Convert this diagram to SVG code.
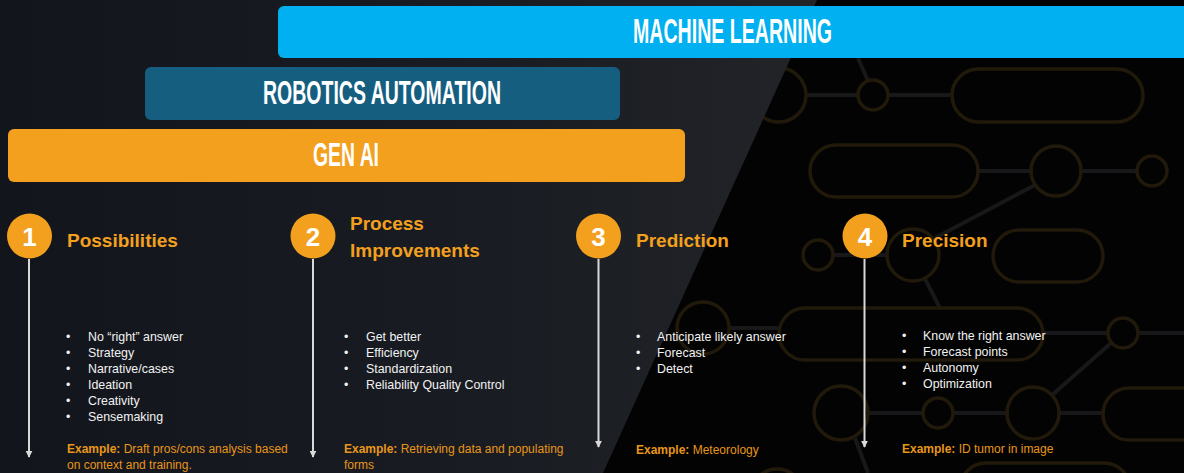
<svg xmlns="http://www.w3.org/2000/svg" width="1184" height="473" viewBox="0 0 1184 473">
<defs>
<linearGradient id="lbg" x1="0" y1="0" x2="1" y2="0">
<stop offset="0" stop-color="#12151c"/>
<stop offset="0.6" stop-color="#191c22"/>
<stop offset="1" stop-color="#222428"/>
</linearGradient>
<marker id="ah" viewBox="0 0 10 10" refX="9" refY="5" markerWidth="7" markerHeight="7" markerUnits="userSpaceOnUse" orient="auto">
<path d="M0,0 L10,5 L0,10 z" fill="#d9d9d9"/>
</marker>
<style>
.ring{fill:none;stroke:#211a0b;stroke-width:3.5}
.wire{stroke:#18181a;stroke-width:4;fill:none}
.bartxt{font-family:"Liberation Sans Narrow","Liberation Sans",Arial,sans-serif;font-weight:bold;fill:#ffffff;text-anchor:middle}
.num{font-family:"Liberation Sans",Arial,sans-serif;font-weight:bold;font-size:26px;fill:#ffffff;text-anchor:middle}
.title{font-family:"Liberation Sans",Arial,sans-serif;font-weight:bold;font-size:19px;fill:#f3a01e}
.body{font-family:"Liberation Sans",Arial,sans-serif;font-size:12.4px;fill:#f2f2f2}
.ex{font-family:"Liberation Sans",Arial,sans-serif;font-size:12px;fill:#e8961a}
.ex tspan.b{font-weight:bold}
.circ{fill:#f3a01e}
.arrow{stroke:#d9d9d9;stroke-width:2;fill:none}
</style>
</defs>
<g id="background">
<rect x="0" y="0" width="1184" height="473" fill="#030303"/>
<g id="circuit">
<line class="wire" x1="806" y1="95" x2="858" y2="95"/>
<line class="wire" x1="868" y1="81" x2="858" y2="58"/>
<line class="wire" x1="888" y1="95" x2="952" y2="95"/>
<line class="wire" x1="978" y1="171" x2="1031" y2="171"/>
<line class="wire" x1="1081" y1="171" x2="1137" y2="171"/>
<line class="wire" x1="1035" y1="185" x2="935" y2="238"/>
<line class="wire" x1="833" y1="255" x2="887" y2="255"/>
<line class="wire" x1="925" y1="279" x2="940" y2="308"/>
<line class="wire" x1="1043" y1="333" x2="1108" y2="333"/>
<line class="wire" x1="1138" y1="333" x2="1184" y2="333"/>
<line class="wire" x1="1051" y1="396" x2="1111" y2="343"/>
<line class="wire" x1="868" y1="413" x2="923" y2="413"/>
<line class="wire" x1="953" y1="413" x2="1007" y2="413"/>
<line class="wire" x1="1059" y1="413" x2="1103" y2="413"/>
<line class="wire" x1="855" y1="438" x2="868" y2="473"/>
<line class="wire" x1="730" y1="328" x2="779" y2="328"/>
<circle class="ring" cx="779" cy="95" r="27"/>
<circle class="ring" cx="873" cy="95" r="15"/>
<rect class="ring" x="952" y="69" width="191" height="53" rx="26.5"/>
<rect class="ring" x="810" y="145" width="168" height="52" rx="26"/>
<circle class="ring" cx="1056" cy="171" r="25"/>
<circle class="ring" cx="1152" cy="171" r="15"/>
<circle class="ring" cx="818" cy="255" r="15"/>
<circle class="ring" cx="913" cy="255" r="26"/>
<rect class="ring" x="993" y="230" width="110" height="52" rx="26"/>
<rect class="ring" x="779" y="308" width="264" height="52" rx="26"/>
<circle class="ring" cx="703" cy="328" r="26"/>
<circle class="ring" cx="1123" cy="333" r="15"/>
<circle class="ring" cx="841" cy="413" r="27"/>
<circle class="ring" cx="938" cy="413" r="15"/>
<circle class="ring" cx="1033" cy="413" r="26"/>
<rect class="ring" x="1103" y="388" width="120" height="52" rx="26"/>
<rect class="ring" x="960" y="463" width="170" height="52" rx="26"/>
<circle class="ring" cx="777" cy="495" r="26"/>
</g>
<polygon points="0,0 817,0 603,473 0,473" fill="url(#lbg)"/>
</g>
<g id="bar-ml">
<rect x="278" y="6" width="912" height="52" rx="6" fill="#00b0f0"/>
<text class="bartxt" x="732.5" y="43" font-size="35" textLength="199" lengthAdjust="spacingAndGlyphs">MACHINE LEARNING</text>
</g>
<g id="bar-ra">
<rect x="145" y="67" width="475" height="53" rx="6" fill="#165e80"/>
<text class="bartxt" x="382" y="103.5" font-size="33" textLength="238" lengthAdjust="spacingAndGlyphs">ROBOTICS AUTOMATION</text>
</g>
<g id="bar-genai">
<rect x="8" y="129" width="677" height="53" rx="6" fill="#f3a01e"/>
<text class="bartxt" x="346" y="166" font-size="33" textLength="66" lengthAdjust="spacingAndGlyphs">GEN AI</text>
</g>
<g id="connectors">
<line class="arrow" x1="29" y1="259" x2="29" y2="457" marker-end="url(#ah)"/>
<line class="arrow" x1="313" y1="259" x2="313" y2="457" marker-end="url(#ah)"/>
<line class="arrow" x1="598.5" y1="259" x2="598.5" y2="447" marker-end="url(#ah)"/>
<line class="arrow" x1="864.5" y1="259" x2="864.5" y2="447" marker-end="url(#ah)"/>
</g>
<g id="col1">
<circle class="circ" cx="29.5" cy="236" r="22.5"/>
<text class="num" x="29.5" y="245.5">1</text>
<text class="title" x="67" y="247">Possibilities</text>
<g class="body">
<text x="66" y="341">•</text><text x="88" y="341">No “right” answer</text>
<text x="66" y="357">•</text><text x="88" y="357">Strategy</text>
<text x="66" y="373">•</text><text x="88" y="373">Narrative/cases</text>
<text x="66" y="389">•</text><text x="88" y="389">Ideation</text>
<text x="66" y="405">•</text><text x="88" y="405">Creativity</text>
<text x="66" y="421">•</text><text x="88" y="421">Sensemaking</text>
</g>
<text class="ex" x="67" y="453"><tspan class="b">Example:</tspan> Draft pros/cons analysis based</text>
<text class="ex" x="67" y="469">on context and training.</text>
</g>
<g id="col2">
<circle class="circ" cx="313" cy="236" r="22.5"/>
<text class="num" x="313" y="245.5">2</text>
<text class="title" x="350" y="230">Process</text>
<text class="title" x="350" y="257">Improvements</text>
<g class="body">
<text x="344" y="341">•</text><text x="366" y="341">Get better</text>
<text x="344" y="357">•</text><text x="366" y="357">Efficiency</text>
<text x="344" y="373">•</text><text x="366" y="373">Standardization</text>
<text x="344" y="389">•</text><text x="366" y="389">Reliability Quality Control</text>
</g>
<text class="ex" x="344" y="453"><tspan class="b">Example:</tspan> Retrieving data and populating</text>
<text class="ex" x="344" y="469">forms</text>
</g>
<g id="col3">
<circle class="circ" cx="598.5" cy="236" r="22.5"/>
<text class="num" x="598.5" y="245.5">3</text>
<text class="title" x="636" y="247">Prediction</text>
<g class="body">
<text x="636" y="341">•</text><text x="657" y="341">Anticipate likely answer</text>
<text x="636" y="357">•</text><text x="657" y="357">Forecast</text>
<text x="636" y="373">•</text><text x="657" y="373">Detect</text>
</g>
<text class="ex" x="636" y="454"><tspan class="b">Example:</tspan> Meteorology</text>
</g>
<g id="col4">
<circle class="circ" cx="865" cy="236" r="22.5"/>
<text class="num" x="865" y="245.5">4</text>
<text class="title" x="902" y="247">Precision</text>
<g class="body">
<text x="902" y="340">•</text><text x="923" y="340">Know the right answer</text>
<text x="902" y="356">•</text><text x="923" y="356">Forecast points</text>
<text x="902" y="372">•</text><text x="923" y="372">Autonomy</text>
<text x="902" y="388">•</text><text x="923" y="388">Optimization</text>
</g>
<text class="ex" x="902" y="453"><tspan class="b">Example:</tspan> ID tumor in image</text>
</g>
</svg>
